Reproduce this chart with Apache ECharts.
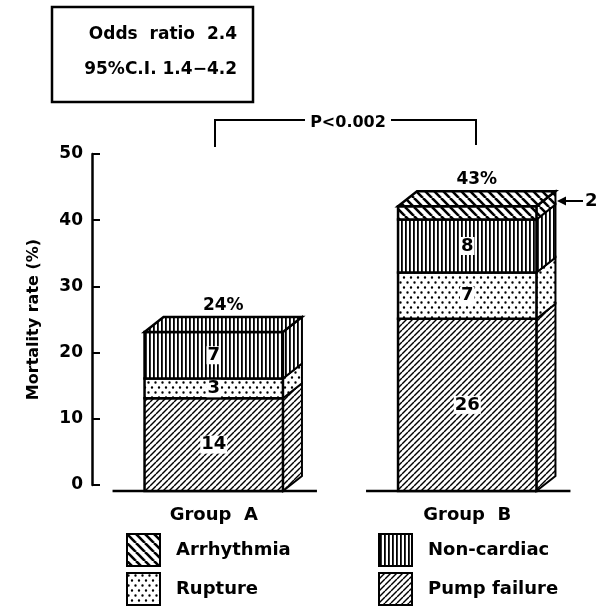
<!DOCTYPE html>
<html>
<head>
<meta charset="utf-8">
<script src="https://cdn.jsdelivr.net/npm/echarts@6/dist/echarts.min.js"></script>
<style>
  html, body { margin: 0; padding: 0; background: #fff; }
  #chart { width: 596px; height: 607px; }
</style>
</head>
<body>
<div id="chart"></div>
<script>
// Data
const groups = ['Group A', 'Group B'];
const pumpFailure = [14, 26];
const rupture = [3, 7];
const nonCardiac = [7, 8];
const arrhythmia = [0, 2];
const causes = ['Pump failure', 'Rupture', 'Non-cardiac', 'Arrhythmia'];
const yTicks = [0, 10, 20, 30, 40, 50];

const FONT = 'DejaVu Sans';
const BAR_RATIO = 0.546;
const DX = 19;   // depth of the 3D effect
const DY = 15;

// Hatch patterns drawn on small canvases
function makePattern(kind) {
  const c = document.createElement('canvas');
  const ctx = c.getContext('2d');
  let s;
  if (kind === 'slash') s = 6;
  else if (kind === 'backslash') s = 9;
  else if (kind === 'vert') s = 4;
  else s = 7;
  c.width = s;
  c.height = kind === 'dots' ? 10 : s;
  ctx.fillStyle = '#fff';
  ctx.fillRect(0, 0, c.width, c.height);
  ctx.strokeStyle = '#000';
  ctx.fillStyle = '#000';
  if (kind === 'slash') {
    ctx.lineWidth = 1.4;
    for (let k = -1; k <= 1; k++) {
      ctx.beginPath();
      ctx.moveTo(k * s, s);
      ctx.lineTo(k * s + s, 0);
      ctx.stroke();
    }
  } else if (kind === 'backslash') {
    ctx.lineWidth = 2.6;
    for (let k = -1; k <= 1; k++) {
      ctx.beginPath();
      ctx.moveTo(k * s, 0);
      ctx.lineTo(k * s + s, s);
      ctx.stroke();
    }
  } else if (kind === 'vert') {
    ctx.fillRect(1, 0, 1.8, s);
  } else {
    ctx.beginPath();
    ctx.arc(1.5, 2.5, 1.2, 0, Math.PI * 2);
    ctx.arc(5, 7.5, 1.2, 0, Math.PI * 2);
    ctx.fill();
  }
  return { image: c, repeat: 'repeat' };
}

const patterns = [makePattern('slash'), makePattern('dots'), makePattern('vert'), makePattern('backslash')];
const values = [pumpFailure, rupture, nonCardiac, arrhythmia];

// cumulative stacking
const totals = groups.map((g, i) => values.reduce((s, arr) => s + arr[i], 0));
const bases = values.map((arr, k) => groups.map((g, i) => {
  let b = 0;
  for (let j = 0; j < k; j++) b += values[j][i];
  return b;
}));

function makeRender(k) {
  return function (params, api) {
    const cat = api.value(0);
    const base = api.value(1);
    const top = api.value(2);
    const lo = api.coord([cat, base]);
    const hi = api.coord([cat, top]);
    const w = api.size([1, 0])[0] * BAR_RATIO;
    const x0 = lo[0] - w / 2;
    const x1 = lo[0] + w / 2;
    const fill = patterns[k];
    const children = [];
    if (k === 0) {
      children.push({
        type: 'line',
        shape: { x1: x0 - 32, y1: lo[1], x2: x1 + DX + 15, y2: lo[1] },
        style: { stroke: '#000', lineWidth: 2.5 }
      });
    }
    if (top - base > 0) {
      children.push({
        type: 'polygon',
        shape: { points: [[x1, lo[1]], [x1 + DX, lo[1] - DY], [x1 + DX, hi[1] - DY], [x1, hi[1]]] },
        style: { fill: fill, stroke: '#000', lineWidth: 2 }
      });
      children.push({
        type: 'rect',
        shape: { x: x0, y: hi[1], width: w, height: lo[1] - hi[1] },
        style: { fill: fill, stroke: '#000', lineWidth: 2.5 }
      });
      if (top === totals[cat]) {
        children.push({
          type: 'polygon',
          shape: { points: [[x0, hi[1]], [x0 + DX, hi[1] - DY], [x1 + DX, hi[1] - DY], [x1, hi[1]]] },
          style: { fill: fill, stroke: '#000', lineWidth: 2.5 }
        });
        children.push({
          type: 'text',
          x: lo[0] + DX / 2,
          y: hi[1] - DY - 3,
          style: {
            text: totals[cat] + '%', fill: '#000', align: 'center', verticalAlign: 'bottom',
            font: 'bold 17px "' + FONT + '"'
          }
        });
      }
      if (k < 3) {
        children.push({
          type: 'text',
          x: lo[0],
          y: (lo[1] + hi[1]) / 2,
          style: {
            text: String(top - base), fill: '#000', align: 'center', verticalAlign: 'middle',
            font: 'bold 18px "' + FONT + '"', backgroundColor: '#fff', padding: [0, 1]
          }
        });
      }
    }
    return { type: 'group', children: children };
  };
}

const series = causes.map((name, k) => ({
  name: name,
  type: 'custom',
  xAxisIndex: 0,
  yAxisIndex: 1,
  clip: false,
  itemStyle: { color: patterns[k], borderColor: '#000', borderWidth: 2 },
  renderItem: makeRender(k),
  encode: { x: 0, y: [1, 2] },
  data: groups.map((g, i) => [i, bases[k][i], bases[k][i] + values[k][i]])
}));

const chart = echarts.init(document.getElementById('chart'));

// one legend per entry so the 2x2 block can be placed exactly
function legendAt(name, left, top) {
  return {
    left: left,
    top: top,
    data: [name],
    icon: 'rect',
    padding: 0,
    itemWidth: 33,
    itemHeight: 32,
    selectedMode: false,
    itemStyle: { borderColor: '#000', borderWidth: 2 },
    textStyle: { fontSize: 18, fontWeight: 'bold', fontFamily: FONT, color: '#000', padding: [0, 0, 0, 11] }
  };
}

const option = {
  animation: false,
  backgroundColor: '#fff',
  grid: { left: 87, right: 2, top: 154, bottom: 122 },
  xAxis: {
    type: 'category',
    data: groups,
    axisLine: { show: false },
    axisTick: { show: false },
    axisLabel: { fontSize: 18, fontWeight: 'bold', fontFamily: FONT, color: '#000', margin: 21,
      formatter: (v) => v.replace(' ', '  ') }
  },
  yAxis: [
    {
      type: 'value',
      min: yTicks[0],
      max: yTicks[yTicks.length - 1],
      interval: 10,
      offset: -5,
      name: 'Mortality rate (%)',
      nameLocation: 'middle',
      nameGap: 50,
      nameTextStyle: { fontSize: 16, fontWeight: 'bold', fontFamily: FONT, color: '#000' },
      axisLine: { show: true, lineStyle: { color: '#000', width: 2.5 } },
      axisTick: { show: true, inside: true, length: 8, lineStyle: { color: '#000', width: 2 } },
      axisLabel: { fontSize: 17, fontWeight: 'bold', fontFamily: FONT, color: '#000', margin: 9 },
      splitLine: { show: false }
    },
    {
      type: 'value',
      show: false,
      min: 0.9,
      max: 50.9,
      splitLine: { show: false }
    }
  ],
  legend: [
    legendAt('Arrhythmia', 126, 533),
    legendAt('Rupture', 126, 572),
    legendAt('Non-cardiac', 378, 533),
    legendAt('Pump failure', 378, 572)
  ],
  graphic: [
    { type: 'rect', shape: { x: 52, y: 7, width: 201, height: 95 }, style: { fill: 'none', stroke: '#000', lineWidth: 2.5 } },
    { type: 'text', x: 237, y: 35, style: { text: 'Odds  ratio  2.4', align: 'right', verticalAlign: 'middle', fill: '#000', font: 'bold 17px "' + FONT + '"' } },
    { type: 'text', x: 237, y: 70, style: { text: '95%C.I. 1.4\u22124.2', align: 'right', verticalAlign: 'middle', fill: '#000', font: 'bold 17px "' + FONT + '"' } },
    { type: 'polyline', shape: { points: [[215, 147], [215, 120], [305, 120]] }, style: { stroke: '#000', lineWidth: 2, fill: 'none' } },
    { type: 'polyline', shape: { points: [[391, 120], [476, 120], [476, 145]] }, style: { stroke: '#000', lineWidth: 2, fill: 'none' } },
    { type: 'text', x: 348, y: 123, style: { text: 'P<0.002', align: 'center', verticalAlign: 'middle', fill: '#000', font: 'bold 16px "' + FONT + '"' } },
    { type: 'line', shape: { x1: 583, y1: 201, x2: 562, y2: 201 }, style: { stroke: '#000', lineWidth: 2 } },
    { type: 'polygon', shape: { points: [[557, 201], [566, 196.5], [566, 205.5]] }, style: { fill: '#000' } },
    { type: 'text', x: 585, y: 201, style: { text: String(arrhythmia[1]), align: 'left', verticalAlign: 'middle', fill: '#000', font: 'bold 18px "' + FONT + '"' } }
  ],
  series: series
};

chart.setOption(option);
</script>
</body>
</html>
